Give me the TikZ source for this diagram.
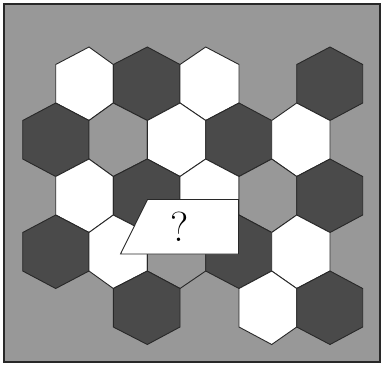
\documentclass[tikz,border=0pt]{standalone}
\usetikzlibrary{calc}
\definecolor{bggray}{RGB}{152,152,152}
\definecolor{darkhex}{RGB}{74,74,74}
\definecolor{edgecol}{RGB}{40,40,40}
\tikzset{
  hexcell/.style={draw=edgecol, line width=0.9pt, line join=miter},
  labelbox/.style={draw=edgecol, line width=0.9pt, fill=white}
}
% #1 left x, #2 vertex x, #3 right x, #4 top y, #5 fill
\newcommand\hexcell[5]{%
  \filldraw[hexcell, fill=#5] (#2,#4) -- (#3,#4+17.5) -- (#3,#4+56) -- (#2,#4+73.5)
    -- (#1,#4+56) -- (#1,#4+17.5) -- cycle;}
\begin{document}
\begin{tikzpicture}[x=1pt,y=-1pt]
\useasboundingbox (0,0) rectangle (382,367);
\fill[white] (0,0) rectangle (382,367);
\filldraw[fill=bggray, draw=edgecol, line width=1.3pt] (4,4) rectangle (380,362);
% row 1 (even) top 47
\hexcell{55.7}{89}{113.3}{47}{white}
\hexcell{113.3}{147.3}{180}{47}{darkhex}
\hexcell{180}{205.7}{239}{47}{white}
\hexcell{296.7}{330}{362.7}{47}{darkhex}
% row 2 (odd) top 103
\hexcell{22.7}{55.7}{89}{103}{darkhex}
\hexcell{89}{113.3}{147.3}{103}{bggray}
\hexcell{147.3}{180}{205.7}{103}{white}
\hexcell{205.7}{239}{271.7}{103}{darkhex}
\hexcell{271.7}{296.7}{330}{103}{white}
% row 3 (even) top 159
\hexcell{55.7}{89}{113.3}{159}{white}
\hexcell{113.3}{147.3}{180}{159}{darkhex}
\hexcell{180}{205.7}{239}{159}{white}
\hexcell{239}{271.7}{296.7}{159}{bggray}
\hexcell{296.7}{330}{362.7}{159}{darkhex}
% row 4 (odd) top 215
\hexcell{22.7}{55.7}{89}{215}{darkhex}
\hexcell{89}{113.3}{147.3}{215}{white}
\hexcell{147.3}{180}{205.7}{215}{bggray}
\hexcell{205.7}{239}{271.7}{215}{darkhex}
\hexcell{271.7}{296.7}{330}{215}{white}
% row 5 (even) top 271
\hexcell{113.3}{147.3}{180}{271}{darkhex}
\hexcell{239}{271.7}{296.7}{271}{white}
\hexcell{296.7}{330}{362.7}{271}{darkhex}
% label
\filldraw[labelbox] (147.5,199.5) -- (238.5,199.5) -- (238.5,254) -- (120.5,254) -- cycle;
\node[inner sep=0pt, font=\fontsize{42}{42}\selectfont] (q) at (180,227) {?};
\end{tikzpicture}
\end{document}
